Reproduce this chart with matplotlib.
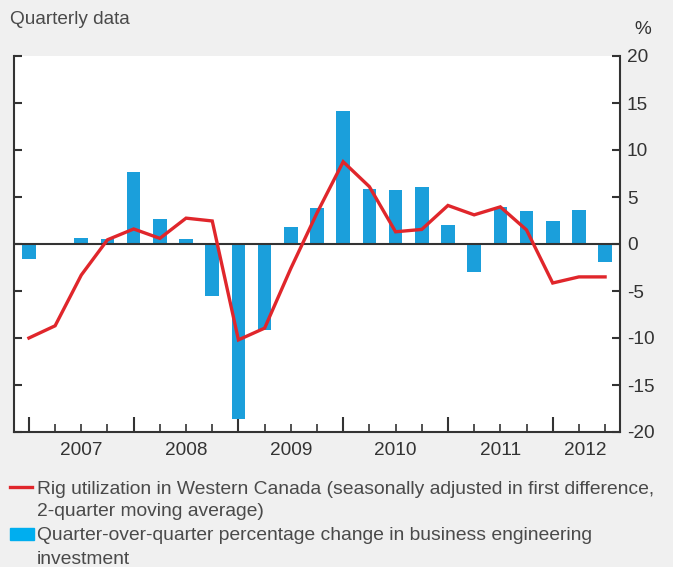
import numpy as np
import matplotlib
matplotlib.use("Agg")
import matplotlib.pyplot as plt
from matplotlib.lines import Line2D
from matplotlib.patches import Rectangle
import matplotlib.transforms as mtransforms

plt.rcParams['font.family'] = ['Liberation Sans', 'DejaVu Sans']
plt.rcParams['axes.unicode_minus'] = False

# quarters 2007Q1 .. 2012Q3
quarters = np.arange(23)
invest = [-1.6, 0.0, 0.6, 0.5, 7.7, 2.7, 0.55, -5.5, -18.6, -9.2, 1.85, 3.85,
          14.2, 5.9, 5.75, 6.1, 2.05, -2.95, 3.9, 3.55, 2.45, 3.6, -1.9]
rig = [-10.0, -8.7, -3.3, 0.45, 1.6, 0.6, 2.75, 2.45, -10.2, -8.95, -2.6, 3.3,
       8.75, 6.1, 1.3, 1.55, 4.1, 3.1, 3.95, 1.5, -4.15, -3.5, -3.5]
years = ['2007', '2008', '2009', '2010', '2011', '2012']
year_pos = [2, 6, 10, 14, 18, 21.25]

W, H = 673, 567
fs = 13.7
lfs = 13.9
fig = plt.figure(figsize=(W / 100, H / 100), dpi=100, facecolor='#f0f0f0')
ax = fig.add_axes([14 / W, (H - 432) / H, 606 / W, 376 / H])
ax.set_facecolor('white')

blue = '#1b9fdb'
red = '#e0262b'
dark = '#333333'
grey = '#4a4a4a'

ax.bar(quarters, invest, width=0.52, color=blue, zorder=2)
ax.axhline(0, color=dark, lw=1.5, zorder=3)
ax.plot(quarters, rig, color=red, lw=2.4, zorder=4, solid_joinstyle='miter')

ax.set_xlim(-0.57, 22.57)
ax.set_ylim(-20, 20)

ax.spines['top'].set_visible(False)
for s in ['left', 'right', 'bottom']:
    ax.spines[s].set_color(dark)
    ax.spines[s].set_linewidth(1.5)

ax.set_yticks(np.arange(-20, 21, 5))
ax.yaxis.set_ticks_position('both')
ax.tick_params(axis='y', direction='in', length=6, width=1.5, color=dark,
               labelleft=False, labelright=True, labelsize=fs,
               labelcolor=dark, pad=5)

ax.set_xticks(np.arange(0, 23, 4))
ax.set_xticks(quarters, minor=True)
ax.tick_params(axis='x', which='major', direction='in', length=11, width=1.5,
               color=dark, labelbottom=False)
ax.tick_params(axis='x', which='minor', direction='in', length=6, width=1.2,
               color=dark)

trans = mtransforms.blended_transform_factory(ax.transData, ax.transAxes)
for lab, p in zip(years, year_pos):
    ax.text(p, -0.05, lab, transform=trans, ha='center', va='center',
            fontsize=fs, color=dark)

fig.text(643 / W, 1 - 30 / H, '%', ha='center', va='center', fontsize=fs,
         color=dark)
fig.text(10 / W, 1 - 19 / H, 'Quarterly data', ha='left', va='center',
         fontsize=fs, color=grey)

# legend
fig.add_artist(Line2D([10 / W, 32 / W], [1 - 487 / H, 1 - 487 / H],
                      color=red, lw=2.4, transform=fig.transFigure))
fig.add_artist(Rectangle((10 / W, 1 - 540 / H), 24 / W, 12 / H,
                         color='#00aeef', transform=fig.transFigure))
fig.text(37 / W, 1 - 489 / H,
         'Rig utilization in Western Canada (seasonally adjusted in first difference,',
         ha='left', va='center', fontsize=lfs, color=grey)
fig.text(37 / W, 1 - 512 / H, '2-quarter moving average)',
         ha='left', va='center', fontsize=lfs, color=grey)
fig.text(37 / W, 1 - 536 / H,
         'Quarter-over-quarter percentage change in business engineering',
         ha='left', va='center', fontsize=lfs, color=grey)
fig.text(37 / W, 1 - 559 / H, 'investment',
         ha='left', va='center', fontsize=lfs, color=grey)

fig.savefig('out.png', dpi=100, facecolor=fig.get_facecolor())
